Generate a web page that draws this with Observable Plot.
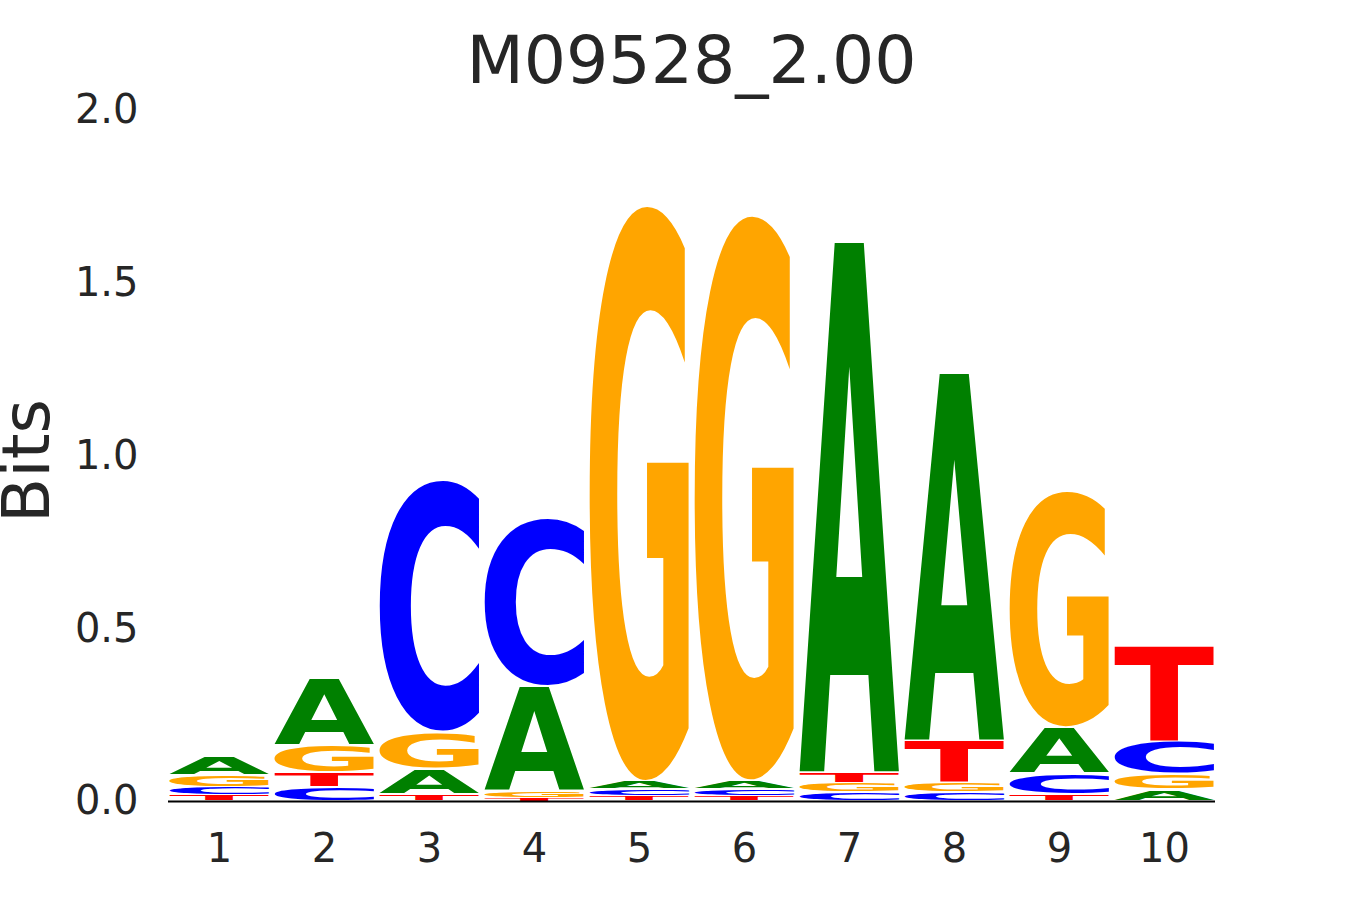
<!DOCTYPE html>
<html><head><meta charset="utf-8">
<script src="https://cdn.jsdelivr.net/npm/d3@7"></script>
<script src="https://cdn.jsdelivr.net/npm/@observablehq/plot@0.6"></script>
<style>
body{margin:0;background:#fff;font-family:"DejaVu Sans",sans-serif;}
#title{height:100px;box-sizing:border-box;padding:27px 135px 0 168px;line-height:66px;font-size:66.5px;color:#262626;text-align:center;white-space:nowrap;}
svg{overflow:visible;}
</style></head><body>
<div id="title">M09528_2.00</div>
<div id="chart"></div>
<script>
const positions = [1, 2, 3, 4, 5, 6, 7, 8, 9, 10];
const letters = ["A", "C", "G", "T"];
const heightA = [0.055, 0.195, 0.075, 0.305, 0.021, 0.023, 1.537, 1.065, 0.133, 0.033];
const heightC = [0.024, 0.040, 0.732, 0.489, 0.020, 0.020, 0.025, 0.025, 0.060, 0.095];
const heightG = [0.035, 0.080, 0.105, 0.020, 1.672, 1.642, 0.028, 0.028, 0.687, 0.045];
const heightT = [0.017, 0.042, 0.020, 0.008, 0.015, 0.015, 0.030, 0.122, 0.020, 0.277];
const letterColors = {A: "green", C: "blue", G: "orange", T: "red"};
const yTicks = [0, 0.5, 1, 1.5, 2];

const heights = {A: heightA, C: heightC, G: heightG, T: heightT};
const rows = [];
positions.forEach((p, i) => {
  const col = letters.map(l => ({letter: l, h: heights[l][i]})).sort((a, b) => a.h - b.h);
  let acc = 0;
  for (const c of col) {
    rows.push({pos: p, letter: c.letter, y1: acc, y2: acc + c.h, color: letterColors[c.letter]});
    acc += c.h;
  }
});

const chart = Plot.plot({
  width: 1350, height: 800,
  marginTop: 10, marginBottom: 99, marginLeft: 168, marginRight: 135,
  x: {type: "band", domain: positions, paddingInner: 0.05, paddingOuter: 0, align: 0.5},
  y: {domain: [0, 2]},
  color: {type: "identity"},
  style: {fontFamily: "DejaVu Sans", color: "#262626", background: "white", overflow: "visible"},
  marks: [
    Plot.axisX({tickSize: 0, tickPadding: 32, fontSize: 40, label: null}),
    Plot.axisY({ticks: yTicks, tickFormat: d3.format(".1f"), tickSize: 0, tickPadding: 30, fontSize: 40, label: null}),
    Plot.barY(rows, {x: "pos", y1: "y1", y2: "y2", fill: "color", title: "letter"}),
    Plot.ruleY([0], {stroke: "black", strokeWidth: 2}),
    Plot.text(["Bits"], {frameAnchor: "left", textAnchor: "middle", rotate: -90, dx: -141, dy: 5, fontSize: 66, fill: "#262626"})
  ]
});
document.getElementById("chart").appendChild(chart);

// Replace each bar by its stretched letter glyph
const canvas = document.createElement("canvas");
const ctx = canvas.getContext("2d");
const FS = 200;
ctx.font = `bold ${FS}px "DejaVu Sans"`;
ctx.textAlign = "left";
ctx.textBaseline = "alphabetic";
const ink = {};
for (const l of letters) {
  const m = ctx.measureText(l);
  ink[l] = {l: -m.actualBoundingBoxLeft, r: m.actualBoundingBoxRight, t: -m.actualBoundingBoxAscent, b: m.actualBoundingBoxDescent};
}
const NS = "http://www.w3.org/2000/svg";
chart.querySelectorAll("rect").forEach(rect => {
  const t = rect.querySelector("title");
  if (!t) return;
  const letter = t.textContent.trim();
  const x = +rect.getAttribute("x"), y = +rect.getAttribute("y");
  const w = +rect.getAttribute("width"), h = +rect.getAttribute("height");
  const pad = Math.min(1, h * 0.1);
  const g = ink[letter];
  const sx = w / (g.r - g.l), sy = (h - 2 * pad) / (g.b - g.t);
  const txt = document.createElementNS(NS, "text");
  txt.textContent = letter;
  txt.setAttribute("font-family", "DejaVu Sans");
  txt.setAttribute("font-weight", "bold");
  txt.setAttribute("font-size", FS);
  txt.setAttribute("text-anchor", "start");
  txt.setAttribute("dominant-baseline", "alphabetic");
  txt.setAttribute("fill", rect.getAttribute("fill"));
  txt.setAttribute("transform", `translate(${x},${y + pad}) scale(${sx},${sy}) translate(${-g.l},${-g.t})`);
  rect.parentNode.insertBefore(txt, rect);
  rect.remove();
});
</script>
</body></html>
